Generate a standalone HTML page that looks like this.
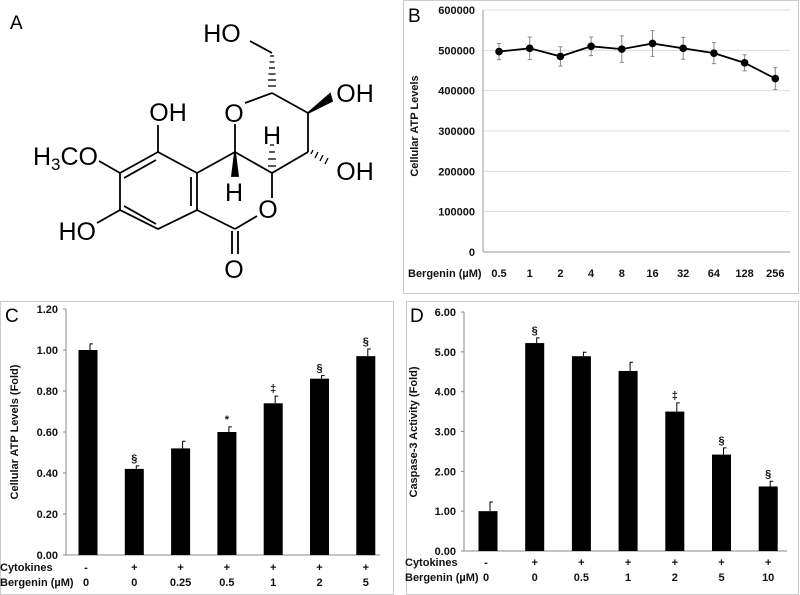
<!DOCTYPE html>
<html><head><meta charset="utf-8"><style>
body{margin:0;background:#fff;width:800px;height:595px;overflow:hidden}
svg{display:block}
text{font-family:"Liberation Sans",sans-serif}
.t{font-size:11px;font-weight:bold;fill:#111}
.chem{font-size:25px;fill:#000}
</style></head><body>
<svg id="fig" width="800" height="595" viewBox="0 0 800 595">
<g id="panelA" stroke="#000" stroke-width="1.8" fill="none">
<text x="10" y="29" style="font-size:19px" stroke="none" fill="#000">A</text>
<polyline points="158,152 197,173 197,210 158,229 120,210 120,173 158,152"/>
<line x1="124" y1="178" x2="156" y2="160"/>
<line x1="191" y1="177" x2="191" y2="206"/>
<line x1="124" y1="206" x2="156" y2="224"/>
<line x1="158" y1="152" x2="158" y2="125"/>
<line x1="120" y1="173" x2="99" y2="161"/>
<line x1="120" y1="210" x2="97" y2="223"/>
<line x1="197" y1="210" x2="235" y2="229"/>
<line x1="235" y1="229" x2="257" y2="216"/>
<line x1="232" y1="231" x2="232" y2="254"/><line x1="238" y1="231" x2="238" y2="254"/>
<line x1="197" y1="173" x2="235" y2="152"/>
<line x1="235" y1="152" x2="272" y2="173"/>
<line x1="272" y1="173" x2="272" y2="198"/>
<line x1="235" y1="152" x2="235" y2="124"/>
<line x1="245" y1="103" x2="272" y2="93"/>
<line x1="272" y1="93" x2="308" y2="113"/>
<line x1="308" y1="113" x2="308" y2="152"/>
<line x1="308" y1="152" x2="272" y2="173"/>
<line x1="272" y1="53" x2="250" y2="41"/>
<polygon points="235,152 232,176 238,176" fill="#000"/>
<polygon points="308,113 330,94 332,101" fill="#000"/>
<g stroke-width="1.3">
<line x1="270" y1="56" x2="274" y2="56"/><line x1="269.5" y1="62" x2="274.5" y2="62"/><line x1="269" y1="68" x2="275" y2="68"/><line x1="268.5" y1="74" x2="275.5" y2="74"/><line x1="268" y1="80" x2="276" y2="80"/><line x1="268" y1="86" x2="276" y2="86"/>
<line x1="270" y1="145" x2="274" y2="145"/><line x1="269" y1="152" x2="275" y2="152"/><line x1="268" y1="159" x2="276" y2="159"/><line x1="268" y1="166" x2="276" y2="166"/>
<line x1="313" y1="150" x2="311" y2="154"/><line x1="318" y1="152" x2="315" y2="158"/><line x1="323" y1="155" x2="320" y2="161"/><line x1="328" y1="158" x2="325" y2="164"/>
</g>
<g stroke="none" fill="#000">
<text x="222" y="42" text-anchor="middle" class="chem">HO</text>
<text x="355" y="102" text-anchor="middle" class="chem">OH</text>
<text x="355" y="180" text-anchor="middle" class="chem">OH</text>
<text x="234" y="122" text-anchor="middle" class="chem">O</text>
<text x="272" y="144" text-anchor="middle" class="chem">H</text>
<text x="234" y="201" text-anchor="middle" class="chem">H</text>
<text x="268" y="218" text-anchor="middle" class="chem">O</text>
<text x="234" y="278" text-anchor="middle" class="chem">O</text>
<text x="168" y="121" text-anchor="middle" class="chem">OH</text>
<text x="98" y="165" text-anchor="end" class="chem">H<tspan style="font-size:17px" dy="5">3</tspan><tspan dy="-5">CO</tspan></text>
<text x="96" y="240" text-anchor="end" class="chem">HO</text>
</g>
</g>
<rect x="403.5" y="0.5" width="395" height="293" fill="none" stroke="#ccc"/>
<rect x="0.5" y="301.5" width="393" height="293" fill="none" stroke="#ccc"/>
<rect x="406.5" y="301.5" width="392" height="293" fill="none" stroke="#ccc"/>
<g id="B"></g><g id="C"></g><g id="D"></g>
</svg>
<script>
const NS="http://www.w3.org/2000/svg";
function mk(p,tag,a,txt){const e=document.createElementNS(NS,tag);for(const k in a)e.setAttribute(k,a[k]);if(txt!==undefined)e.textContent=txt;p.appendChild(e);return e;}

// Panel B data
const bCats=["0.5","1","2","4","8","16","32","64","128","256"];
const bVals=[497000,505000,485000,510000,503000,517000,505000,493000,469000,430000];
const bErr=[20000,28000,24000,23000,33000,32000,27000,26000,20000,27000];
const bTicks=[0,100000,200000,300000,400000,500000,600000];

// Panel C data
const cCyto=["-","+","+","+","+","+","+"];
const cBerg=["0","0","0.25","0.5","1","2","5"];
const cVals=[1.00,0.42,0.52,0.60,0.74,0.86,0.97];
const cErr=[0.03,0.015,0.035,0.025,0.035,0.015,0.035];
const cMarks=["","§","","*","‡","§","§"];
const cTicks=[0,0.2,0.4,0.6,0.8,1.0,1.2];

// Panel D data
const dCyto=["-","+","+","+","+","+","+"];
const dBerg=["0","0","0.5","1","2","5","10"];
const dVals=[1.00,5.22,4.89,4.52,3.50,2.42,1.62];
const dErr=[0.23,0.13,0.10,0.22,0.22,0.17,0.13];
const dMarks=["","§","","","‡","§","§"];
const dTicks=[0,1,2,3,4,5,6];

// Panel B
(function(){
 const g=document.getElementById('B');
 const x0=483,y0=252,ytop=10,ymax=600000;
 const ys=v=>y0-(v/ymax)*(y0-ytop);
 const xs=i=>499+i*30.7;
 mk(g,'text',{x:408,y:22,style:'font-size:19px;fill:#000',},'B');
 bTicks.forEach(t=>{
  if(t>0){const l=mk(g,'line',{x1:x0,x2:790,y1:ys(t),y2:ys(t),stroke:'#ddd'});}
  const e=mk(g,'text',{x:475,y:ys(t)+4,'text-anchor':'end',class:'t'},t);
  
 });
 mk(g,'line',{x1:x0,x2:x0,y1:ytop,y2:y0,stroke:'#999'});
 mk(g,'line',{x1:x0,x2:790,y1:y0,y2:y0,stroke:'#999'});
 const yt=mk(g,'text',{x:0,y:0,class:'t',transform:'translate(418,126) rotate(-90)','text-anchor':'middle'},'Cellular ATP Levels');
 
 const xl=mk(g,'text',{x:408,y:277,class:'t'},'Bergenin (µM)');
 
 bCats.forEach((c,i)=>{const e=mk(g,'text',{x:xs(i),y:277,class:'t','text-anchor':'middle'},c);});
 bVals.forEach((v,i)=>{
  const e=mk(g,'path',{d:`M${xs(i)-2},${ys(v+bErr[i])}h4M${xs(i)},${ys(v+bErr[i])}V${ys(v-bErr[i])}M${xs(i)-2},${ys(v-bErr[i])}h4`,stroke:'#888','stroke-width':1,fill:'none'});
  
 });
 const ln=mk(g,'polyline',{points:bVals.map((v,i)=>xs(i)+','+ys(v)).join(' '),fill:'none',stroke:'#000','stroke-width':1.8});
 
 bVals.forEach((v,i)=>{const p=mk(g,'circle',{cx:xs(i),cy:ys(v),r:3.8,fill:'#000'});});
})();

function barPanel(id,o){
 const g=document.getElementById(id);
 const ys=v=>o.y0-(v/o.ymax)*(o.y0-o.ytop);
 const xs=i=>o.xc0+i*o.dx;
 const lab=mk(g,'text',{x:o.lx,y:o.ly,style:'font-size:19px;fill:#000'},o.letter);
 
 o.ticks.forEach(t=>{const e=mk(g,'text',{x:o.x0-8,y:ys(t)+4,'text-anchor':'end',class:'t'},t.toFixed(2));
  mk(g,'line',{x1:o.x0-3,x2:o.x0,y1:ys(t),y2:ys(t),stroke:'#888'});});
 mk(g,'line',{x1:o.x0,x2:o.x0,y1:o.ytop,y2:o.y0,stroke:'#888'});
 mk(g,'line',{x1:o.x0,x2:o.xend,y1:o.y0,y2:o.y0,stroke:'#888'});
 const yt=mk(g,'text',{x:0,y:0,class:'t',transform:`translate(${o.tx},${o.ty}) rotate(-90)`,'text-anchor':'middle'},o.title);
 
 const r1=mk(g,'text',{x:o.lx-5,y:o.r1,class:'t'},'Cytokines');
 const r2=mk(g,'text',{x:o.lx-5,y:o.r2,class:'t'},'Bergenin (µM)');
 o.vals.forEach((v,i)=>{
  const cx=xs(i);
  const b=mk(g,'rect',{x:cx-9.5,y:ys(v),width:19,height:o.y0-ys(v),fill:'#000'});
  
  const eb=mk(g,'path',{d:`M${cx+2},${ys(v)}V${ys(v+o.err[i])}h3`,stroke:'#000','stroke-width':1,fill:'none'});
  
  if(o.marks[i]){const m=mk(g,'text',{x:cx,y:ys(v+o.err[i])-4,class:'t','text-anchor':'middle'},o.marks[i]);}
  const c1=mk(g,'text',{x:i===0?cx-2:cx,y:o.r1,class:'t','text-anchor':'middle'},o.cyto[i]);
  const c2=mk(g,'text',{x:i===0?cx-2:cx,y:o.r2,class:'t','text-anchor':'middle'},o.berg[i]);
 });
}
barPanel('C',{letter:'C',lx:5,ly:322,x0:66,xend:380,y0:555,ytop:309,ymax:1.2,xc0:88,dx:46.3,ticks:cTicks,vals:cVals,err:cErr,marks:cMarks,cyto:cCyto,berg:cBerg,title:'Cellular ATP Levels (Fold)',tx:18,ty:432,r1:571,r2:586});
barPanel('D',{letter:'D',lx:410,ly:322,x0:464,xend:787,y0:551,ytop:312,ymax:6,xc0:488,dx:46.7,ticks:dTicks,vals:dVals,err:dErr,marks:dMarks,cyto:dCyto,berg:dBerg,title:'Caspase-3 Activity (Fold)',tx:417,ty:432,r1:566,r2:581});
</script>
</body></html>
